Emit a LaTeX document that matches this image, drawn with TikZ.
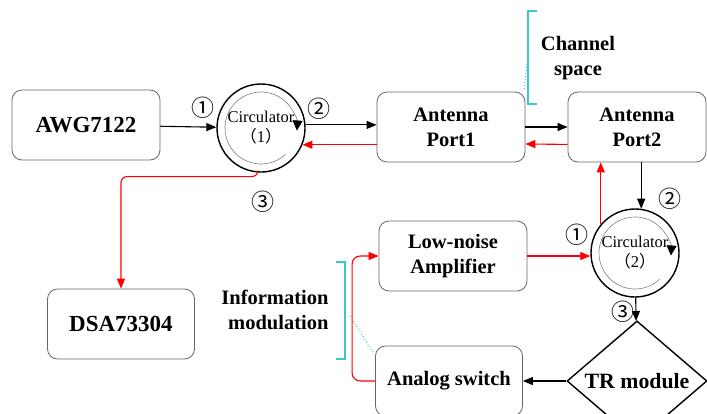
\documentclass[tikz,border=0pt]{standalone}
\usepackage{fontspec}
\setmainfont{Liberation Serif}
\newfontfamily\cjk{Noto Sans CJK SC}
\usetikzlibrary{shapes.geometric,arrows.meta}
\definecolor{bracketcyan}{RGB}{60,200,200}
\newcommand\boxfont{\fontsize{20.5pt}{25pt}\selectfont\bfseries}
\newcommand\bigboxfont{\fontsize{23pt}{27pt}\selectfont\bfseries}
\newcommand\circfont{\fontsize{16.5pt}{20pt}\selectfont}
\newcommand\portnum[1]{{\cjk\fontsize{23pt}{23pt}\selectfont #1}}

\begin{document}
\begin{tikzpicture}[x=1pt,y=1pt,
  blk/.style={draw=black!60,line width=0.8pt,rounded corners=10pt,minimum width=148pt,minimum height=70pt,align=center,font=\boxfont,inner sep=2pt},
  circ/.style={circle,draw,line width=1.4pt,minimum size=88pt,inner sep=0pt,align=center,font=\circfont},
  sig/.style={line width=1.1pt,-{Triangle[length=10pt,width=8pt]}},
  back/.style={sig,red},
  turn/.style={gray,line width=0.6pt,-{Triangle[length=10pt,width=10pt,color=black]}},
  brk/.style={bracketcyan,line width=1.2pt},
  hint/.style={bracketcyan,dotted,line width=1pt}]
\useasboundingbox (0,0) rectangle (707,-413);

% blocks
\node[blk,font=\bigboxfont] (awg) at (86,-125) {AWG7122};
\node[circ] (circA) at (261,-128) {Circulator\\{\cjk （}1{\cjk ）}};
\node[blk] (portA) at (451,-127) {Antenna\\Port1};
\node[blk,minimum width=138pt] (portB) at (637,-127) {Antenna\\Port2};
\node[circ] (circB) at (635,-253) {Circulator\\{\cjk （}2{\cjk ）}};
\node[blk] (lna) at (453,-256) {Low-noise\\Amplifier};
\node[diamond,draw,line width=1.4pt,minimum width=140pt,minimum height=72pt,inner sep=0pt,font=\fontsize{21.8pt}{25pt}\selectfont\bfseries] (tr) at (637,-381) {TR module};
\node[blk,minimum width=147pt] (sw) at (449,-381) {Analog switch};
\node[blk,minimum width=147pt,font=\bigboxfont] (dsa) at (121,-324) {DSA73304};

% inner turning arcs
\draw[turn] (circA) ++(-47:36) arc[start angle=-47,end angle=-364,radius=36];
\draw[turn] (circB) ++(-47:36) arc[start angle=-47,end angle=-364,radius=36];

% port numbers
\node (nA1) at ([shift={(-58,20)}]circA) {\portnum{①}};
\node (nA2) at ([shift={(58,19)}]circA) {\portnum{②}};
\node (nA3) at ([shift={(2,-74)}]circA) {\portnum{③}};
\node (nB1) at ([shift={(-58,18)}]circB) {\portnum{①}};
\node (nB2) at ([shift={(35,54)}]circB) {\portnum{②}};
\node (nB3) at ([shift={(-12,-59)}]circB) {\portnum{③}};

% forward path
\draw[sig] (awg) -- (circA);
\draw[sig] (circA.4) -- (circA.4 -| portA.west);
\draw[sig] (portA.east) -- (portB.west);
\draw[sig] (portB.south -| circB.82) -- (circB.82);
\draw[sig] (circB) -- (tr);
\draw[sig] (tr.west) -- (sw.east);

% return path
\draw[back] (portB.west |- portB.south) ++(0,18) -- ([yshift=-17pt]portA.east);
\draw[back] (portA.west |- circA.-22) -- (circA.-22);
\draw[back,rounded corners=6pt] (circA.-94) |- ([yshift=112pt]dsa.north) -- (dsa.north);
\draw[back] (lna.east) -- (circB.west |- lna.east);
\draw[back] (circB.140) -- (circB.140 |- portB.south);
\draw[back,rounded corners=8pt] (sw.west) -- ++(-23,0) |- (lna.west);

% annotations
\node[font=\boxfont,align=center] (chan) at (578,-58) {Channel\\space};
\draw[brk] (537,-11) -- (528,-11) -- (528,-104) -- (537,-104);
\draw[hint] (527,-64) -- (524,-89);
\node[font=\boxfont,align=right,anchor=east] (info) at (332,-310) {Information\\modulation};
\draw[brk] (336,-262) -- (345,-262) -- (345,-359) -- (336,-359);
\draw[hint] (350,-316) -- (373,-352);
\end{tikzpicture}
\end{document}
